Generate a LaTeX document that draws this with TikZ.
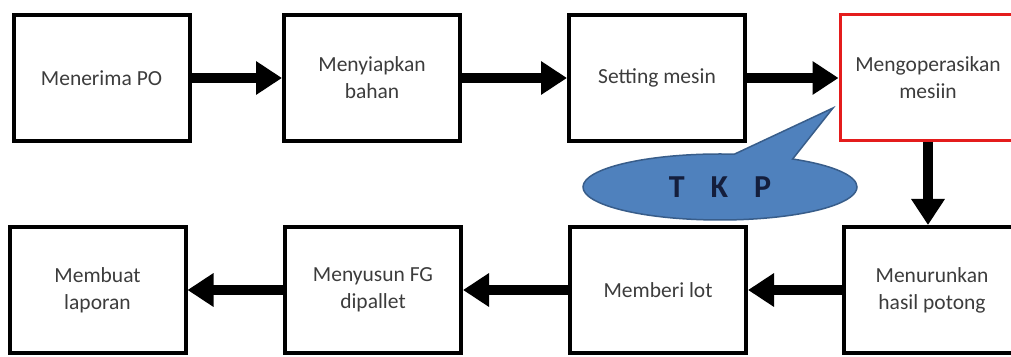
\documentclass[tikz,border=0pt]{standalone}
\usepackage{fontspec}
\setmainfont{Carlito}
\usetikzlibrary{arrows.meta,shapes.callouts}
\definecolor{boxtext}{RGB}{60,60,60}
\definecolor{tkpblue}{RGB}{79,129,189}
\definecolor{tkpline}{RGB}{56,93,138}
\definecolor{tkptext}{RGB}{20,30,60}
\definecolor{redline}{RGB}{228,28,28}
\begin{document}
\begin{tikzpicture}[x=1pt,y=1pt]
			\tikzstyle{step box}=[rectangle, draw=black, line width=4pt, minimum width=176pt, minimum height=126pt, align=center, text=boxtext, font=\fontsize{21.5}{27}\selectfont]
			\tikzstyle{flow}=[line width=10pt, -{Triangle[length=26pt,width=32pt]}]
			
			\useasboundingbox (0,0) rectangle (1011,356);
			
			\draw node at (101.5, 278) [step box] (po) {Menerima PO};
			\draw node at (372, 278) [step box] (bahan) {Menyiapkan\\bahan};
			\draw node at (657, 278) [step box] (setting) {Setting mesin};
			\draw node at (928, 278) [step box, draw=redline, line width=3pt] (operasi) {Mengoperasikan\\mesiin};
			
			\draw [flow]  (po) to (bahan);
			\draw [flow]  (bahan) to (setting);
			\draw [flow]  (setting) to (operasi);
			
			\draw node at (932, 66) [step box] (turun) {Menurunkan\\hasil potong};
			\draw node at (658, 66) [step box] (lot) {Memberi lot};
			\draw node at (373, 66) [step box] (pallet) {Menyusun FG\\dipallet};
			\draw node at (97.5, 66) [step box] (lapor) {Membuat\\laporan};
			
			\draw [flow]  (operasi.south) to (operasi.south |- turun.north);
			\draw [flow]  (turun) to (lot);
			\draw [flow]  (lot) to (pallet);
			\draw [flow]  (pallet) to (lapor);
			
			% callout pointing to the red box
			\coordinate (tkptip) at (833, 248);
			\node at (720, 169) [ellipse callout, callout absolute pointer={(tkptip)}, callout pointer arc=26,
				fill=tkpblue, draw=tkpline, line width=1.5pt, minimum width=274pt, minimum height=66pt, inner sep=0pt,
				text=tkptext, font=\fontsize{32}{36}\selectfont\bfseries] (tkp) {\spaceskip=26pt T K P};
\end{tikzpicture}
\end{document}
